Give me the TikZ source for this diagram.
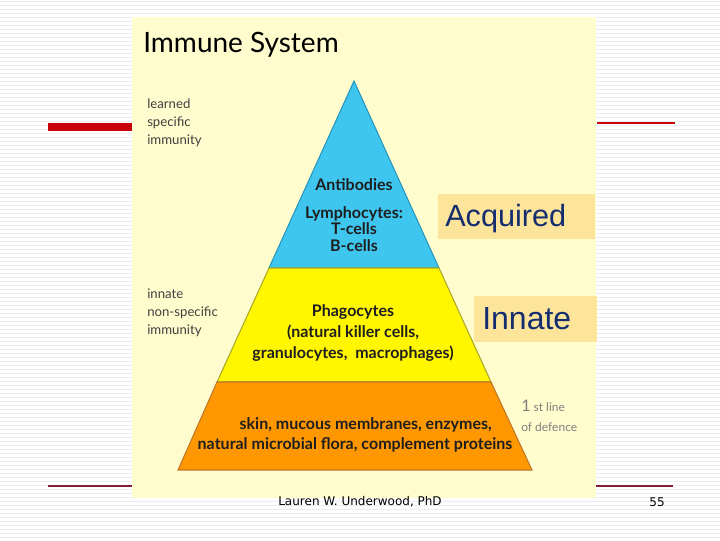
\documentclass[tikz,border=0pt]{standalone}
\usepackage{fontspec}
\setmainfont{Lato}
\newfontfamily\slidefont{Liberation Sans}
\newfontfamily\footfont{DejaVu Sans}
\definecolor{panelc}{RGB}{255,252,205}
\definecolor{stripec}{RGB}{236,236,240}
\definecolor{barred}{RGB}{200,0,10}
\definecolor{lineRed}{RGB}{130,30,55}
\definecolor{bluec}{RGB}{62,198,238}
\definecolor{blueedge}{RGB}{40,150,190}
\definecolor{yellowc}{RGB}{255,246,0}
\definecolor{yellowedge}{RGB}{170,170,40}
\definecolor{orangec}{RGB}{255,152,0}
\definecolor{orangeedge}{RGB}{190,120,40}
\definecolor{boxc}{RGB}{253,228,155}
\definecolor{navy}{RGB}{20,45,110}
\definecolor{txt}{RGB}{30,30,30}
\begin{document}
\begin{tikzpicture}[x=0.75pt,y=-0.75pt,
  stripe/.style={stripec,line width=0.75pt},
  pyrtext/.style={font=\bfseries\fontsize{12}{13}\selectfont,text=txt,align=center,inner sep=0pt},
  sidelabel/.style={font=\fontsize{9.9}{13.5}\selectfont,text=txt!85,align=left,anchor=north west,inner sep=0pt},
  bigword/.style={font=\slidefont\fontsize{23}{26}\selectfont,text=navy,anchor=west,inner sep=0pt},
  tagbox/.style={fill=boxc,draw=none}]
\useasboundingbox (0,0) rectangle (720,540);
\fill[white] (0,0) rectangle (720,540);
\foreach \y in {1,5,...,539} \draw[stripe] (0,\y) -- (720,\y);
% slide decorations
\draw[lineRed,line width=1pt] (48,486) -- (673,486);
\fill[barred] (48,123) rectangle (132,131);
\draw[barred,line width=0.8pt] (597,123) -- (675,123);
% picture panel
\fill[panelc] (132,17) rectangle (596,498);
% pyramid
\coordinate (ap) at (354,81);
\coordinate (bl) at (269,268); \coordinate (br) at (439,268);
\coordinate (yl) at (217,382); \coordinate (yr) at (491,382);
\coordinate (ol) at (178,470); \coordinate (or) at (532,470);
\filldraw[fill=bluec,draw=blueedge,line width=0.8pt] (ap) -- (br) -- (bl) -- cycle;
\filldraw[fill=yellowc,draw=yellowedge,line width=0.8pt] (bl) -- (br) -- (yr) -- (yl) -- cycle;
\filldraw[fill=orangec,draw=orangeedge,line width=0.8pt] (yl) -- (yr) -- (or) -- (ol) -- cycle;
% title
\node[font=\fontsize{21}{24}\selectfont,text=black,anchor=west,inner sep=0pt] (title) at (143,45) {Immune System};
% side labels
\node[sidelabel] (learned) at (147,99) {learned\\specific\\immunity};
\node[sidelabel] (innate) at (147,289) {innate\\non-specific\\immunity};
\node[anchor=west,inner sep=0pt,text=black!50,font=\fontsize{9}{13}\selectfont] (first) at (521,406) {{\fontsize{12}{13}\selectfont 1} st line};
\node[anchor=west,inner sep=0pt,text=black!50,font=\fontsize{9}{13}\selectfont] (defence) at (521,427) {of defence};
% pyramid texts
\node[pyrtext] (antib) at (354,185) {Antibodies};
\node[pyrtext,font=\bfseries\fontsize{12}{12.5}\selectfont] (lymph) at (354,229) {Lymphocytes:\\T-cells\\B-cells};
\node[pyrtext,font=\bfseries\fontsize{12}{15.5}\selectfont] (phago) at (353,333) {Phagocytes\\(natural killer cells,\\granulocytes,\ \ macrophages)};
\node[pyrtext,font=\bfseries\fontsize{12}{15}\selectfont] (skin) at (355,435) {\hspace*{16pt}skin, mucous membranes, enzymes,\\natural microbial flora, complement proteins};
% tag boxes
\fill[tagbox] (438,194) rectangle (595,239);
\node[bigword] (acq) at (445,219) {Acquired};
\fill[tagbox] (474,296) rectangle (597,342);
\node[bigword,font=\slidefont\fontsize{24}{26}\selectfont] (inn) at (482,319) {Innate};
% footer
\node[font=\footfont\fontsize{9}{10}\selectfont,inner sep=0pt] (author) at (360,502) {Lauren W. Underwood, PhD};
\node[font=\footfont\fontsize{9}{10}\selectfont,inner sep=0pt] (page) at (657,502) {55};
\end{tikzpicture}
\end{document}
